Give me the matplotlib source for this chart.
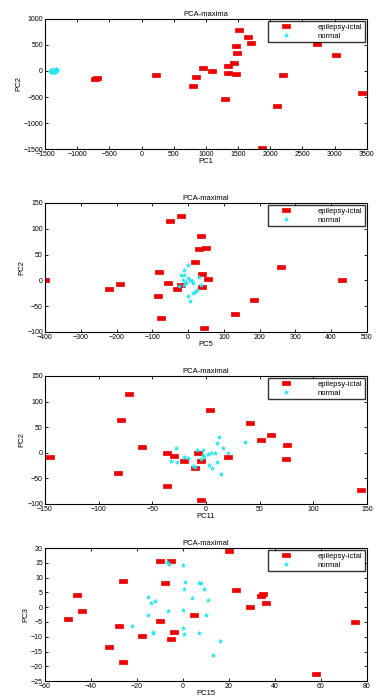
import numpy as np
import matplotlib
matplotlib.use("Agg")
import matplotlib.pyplot as plt

plt.rcParams['font.family'] = ['Liberation Sans', 'DejaVu Sans']

# panel 1: PC1 vs PC2
p1_ictal_x = [-730, -700, 220, 950, 1100, 800, 840, 1300, 1350, 1350, 1430, 1460, 1480, 1470,
              1510, 1650, 1700, 1870, 2100, 2200, 2730, 3020, 3420]
p1_ictal_y = [-160, -140, -75, 60, 0, -280, -110, -540, 100, -40, 150, 480, 350, -60,
              780, 650, 540, -1480, -670, -80, 520, 300, -420]
p1_norm_x = [-1420, -1400, -1390, -1380, -1370, -1360, -1350, -1340, -1330, -1320, -1310,
             -1400, -1380, -1360, -1340, -1320, -1390, -1370, -1350, -1330]
p1_norm_y = [0, 10, -20, 20, -10, 5, 25, -15, 30, 10, 20, -10, 5, -25, 0, 15, 20, 15, 10, -5]

# panel 2: PC5 vs PC2
p2_ictal_x = [-400, -220, -190, -85, -75, -80, -55, -30, -50, -20, 20, 30, 35, 50, 40, 55,
              40, 45, 130, 185, 260, 430, -20]
p2_ictal_y = [0, -16, -7, -30, -73, 16, -6, -16, 115, 125, 35, 60, 85, 63, 12, 2,
              -13, -93, -66, -39, 25, 0, -10]
p2_norm_x = [0, -10, -20, -10, 0, -5, 5, 10, -15, -10, 30, 35, 25, 20, 15, 0, 5, -5, 15, -25]
p2_norm_y = [30, 20, 10, 10, 5, -5, 0, -2, 0, -10, 7, -10, -18, -22, -25, -30, -40, -3, -5, -12]

# panel 3: PC11 vs PC2
p3_ictal_x = [-145, -72, -79, -82, -60, -36, -30, -20, -36, -7, -5, -10, 4, -5, 21, 41,
              51, 61, 75, 76, 145]
p3_ictal_y = [-9, 115, 64, -39, 11, -1, -7, -17, -65, 0, -16, -30, 84, -93, -8, 59,
              24, 34, -13, 15, -73]
p3_norm_x = [-28, -33, -27, -20, -17, -12, -10, -5, -8, -3, -3, 2, 5, 8, 3, 6, 10, 14,
             10, 12, 16, 21, 36, -2]
p3_norm_y = [10, -17, -19, -8, -10, -25, -28, -12, 5, 5, -5, -3, 0, -1, -23, -30, -18, -41,
             20, 30, 10, 0, 21, -8]

# panel 4: PC15 vs PC3
p4_ictal_x = [-50, -46, -44, -32, -28, -26, -26, -18, -10, -5, -8, -10, -4, -5, 5, 20,
              23, 29, 34, 35, 36, 58, 75]
p4_ictal_y = [-4, 4.3, -1.3, -13.3, -6.2, 8.9, -18.6, -9.9, 15.5, 15.5, 8.2, -4.7, -8.5,
              -10.8, -2.7, 18.9, 5.7, 0, 3.8, 4.4, 1.5, -22.5, -5]
p4_norm_x = [-7, -6, 0, 1, 7, 8, 0.5, 9, 4, 11, -15, -14, -12, -15, -6.5, 0, 10, -22,
             -13, -13, 0, 0.5, 7, 16, 13]
p4_norm_y = [15.4, 14.6, 14.2, 8.4, 8.3, 8.3, 6, 6, 3.1, 2.6, 3.4, 1.5, 2.2, -2.5, -1.2,
             -1, -2.8, -6.2, -8.3, -8.8, -7, -9.1, -8.8, -11.5, -16.3]

panels = [
    (p1_ictal_x, p1_ictal_y, p1_norm_x, p1_norm_y, 'PCA-maxima', 'PC1', 'PC2',
     (-1500, 3500), (-1500, 1000), np.arange(-1500, 3501, 500), np.arange(-1500, 1001, 500)),
    (p2_ictal_x, p2_ictal_y, p2_norm_x, p2_norm_y, 'PCA-maximal', 'PC5', 'PC2',
     (-400, 500), (-100, 150), np.arange(-400, 501, 100), np.arange(-100, 151, 50)),
    (p3_ictal_x, p3_ictal_y, p3_norm_x, p3_norm_y, 'PCA-maximal', 'PC11', 'PC2',
     (-150, 150), (-100, 150), np.arange(-150, 151, 50), np.arange(-100, 151, 50)),
    (p4_ictal_x, p4_ictal_y, p4_norm_x, p4_norm_y, 'PCA-maximal', 'PC15', 'PC3',
     (-60, 80), (-25, 20), np.arange(-60, 81, 20), np.arange(-25, 21, 5)),
]

# axes boxes in figure fractions (left, bottom, width, height)
boxes = [
    (0.1197, 0.787, 0.856, 0.186),
    (0.1197, 0.526, 0.856, 0.184),
    (0.1197, 0.280, 0.856, 0.183),
    (0.1197, 0.027, 0.856, 0.190),
]

rect = [(-1.6, -1), (1.6, -1), (1.6, 1), (-1.6, 1), (-1.6, -1)]

fig = plt.figure(figsize=(3.76, 7.0), dpi=100)
for (ix, iy, nx, ny, title, xl, yl, xlim, ylim, xt, yt), box in zip(panels, boxes):
    ax = fig.add_axes(box)
    ax.plot(ix, iy, linestyle='none', marker=rect, ms=5.5, color='#ee0000',
            mec='#ee0000', mew=0.5, label='epilepsy-ictal')
    ax.plot(nx, ny, linestyle='none', marker='*', ms=3.2, color='#22e6f0',
            mec='#22e6f0', mew=0.4, label='normal')
    ax.set_xlim(*xlim)
    ax.set_ylim(*ylim)
    ax.set_xticks(xt)
    ax.set_yticks(yt)
    ax.tick_params(direction='in', top=True, right=True, labelsize=5, length=2.5,
                   width=0.6, pad=1.5)
    for s in ax.spines.values():
        s.set_linewidth(0.8)
    ax.set_title(title, fontsize=5.5, pad=2)
    ax.set_xlabel(xl, fontsize=5.5, labelpad=0)
    ax.set_ylabel(yl, fontsize=5.5, labelpad=1)
    leg = ax.legend(loc='upper right', fontsize=5.5, frameon=True, fancybox=False,
                    borderpad=0.3, handlelength=4, labelspacing=0.2, borderaxespad=0.3,
                    handletextpad=2.2)
    leg.get_frame().set_edgecolor('black')
    leg.get_frame().set_linewidth(1.0)

fig.savefig('out.png', dpi=100)
